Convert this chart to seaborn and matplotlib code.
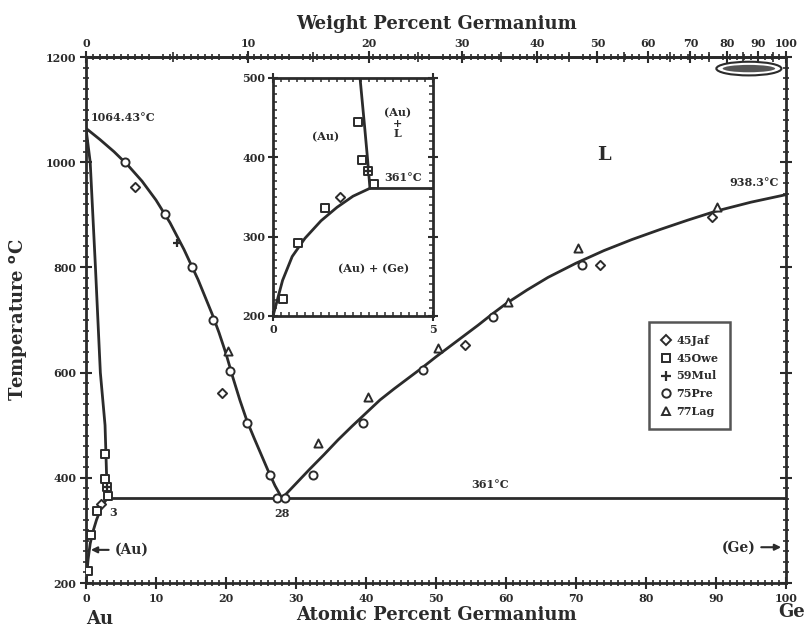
import numpy as np
import pandas as pd
import matplotlib
matplotlib.use("Agg")
import matplotlib.pyplot as plt
from matplotlib.ticker import MultipleLocator, FixedLocator
from matplotlib.patches import Ellipse
from matplotlib.lines import Line2D
import seaborn as sns

# ---------------- data ----------------
# Liquidus, Au side (at.% Ge, deg C)
liq_au_x = [0, 2, 4, 6, 8, 10, 12, 14, 16, 18, 19, 20, 21, 22, 23, 24, 25, 26, 27, 28]
liq_au_t = [1064.43, 1043, 1020, 994, 964, 928, 885, 834, 777, 712, 676, 636, 590, 547, 508, 476, 445, 414, 385, 361]
# Liquidus, Ge side
liq_ge_x = [28, 30, 32, 34, 36, 38, 40, 42, 44, 46, 48, 50, 52, 54, 56, 58, 60, 63, 66, 70, 74, 78, 82, 86, 90, 95, 100]
liq_ge_t = [361, 389, 417, 444, 472, 498, 523, 548, 569, 589, 609, 630, 650, 670, 690, 711, 731, 757, 781, 808, 832, 853, 872, 890, 907, 924, 938.3]
# Solidus of (Au)
sol_x = [0, 0.6, 1.35, 2.05, 2.72, 2.86, 2.95, 3.03]
sol_t = [1064.43, 1000, 800, 600, 500, 440, 400, 361]
# Solvus of (Au)
solv_x = [0, 0.1, 0.3, 0.6, 1.0, 1.5, 2.0, 2.5, 3.03]
solv_t = [200, 215, 245, 275, 298, 320, 337, 351, 361]
# Eutectic isotherm
eut_x = [3.03, 100]
eut_t = [361, 361]

# Experimental points by source
jaf_x = [7.0, 19.4, 54.1, 73.4, 89.4, 2.09]
jaf_t = [953, 561, 652, 805, 896, 350]
owe_x = [0.31, 0.78, 1.63, 2.66, 2.78, 3.16, 2.97]
owe_t = [222, 292, 336, 445, 397, 366, 383]
mul_x = [13.0, 2.97]
mul_t = [846, 383]
pre_x = [5.6, 11.3, 15.1, 18.1, 20.6, 23.0, 26.3, 27.3, 28.4, 32.4, 39.6, 48.1, 58.1, 70.9]
pre_t = [1000, 901, 801, 700, 603, 504, 405, 361, 361, 405, 504, 605, 706, 805]
lag_x = [20.3, 33.1, 40.3, 50.3, 60.3, 70.3, 90.1]
lag_t = [641, 466, 554, 647, 734, 837, 915]

sources = ["45Jaf", "45Owe", "59Mul", "75Pre", "77Lag"]
src_x = [jaf_x, owe_x, mul_x, pre_x, lag_x]
src_t = [jaf_t, owe_t, mul_t, pre_t, lag_t]
src_marker = ["D", "s", "P", "o", "^"]

points = pd.concat(
    [pd.DataFrame({"x": xs, "t": ts, "source": s}) for s, xs, ts in zip(sources, src_x, src_t)],
    ignore_index=True,
)

INK = "#2b2b2b"
M_AU, M_GE = 196.97, 72.63


def at_to_wt(x):
    x = np.asarray(x, dtype=float)
    return x * M_GE / (x * M_GE + (100 - x) * M_AU) * 100


def wt_to_at(w):
    w = np.asarray(w, dtype=float)
    a = w / M_GE
    return a / (a + (100 - w) / M_AU) * 100


# ---------------- style ----------------
sns.set_theme(style="ticks")
plt.rcParams["font.family"] = ["DejaVu Serif"]
plt.rcParams["font.weight"] = "bold"
plt.rcParams["text.color"] = INK
plt.rcParams["axes.edgecolor"] = INK
plt.rcParams["xtick.color"] = INK
plt.rcParams["ytick.color"] = INK
plt.rcParams["axes.labelcolor"] = INK

fig = plt.figure(figsize=(8.08, 6.3), dpi=100)
ax = fig.add_axes([86 / 808, 47 / 630, 700 / 808, 526 / 630])


def draw_diagram(a):
    kw = dict(color=INK, lw=2.0, sort=False, estimator=None, legend=False, ax=a)
    sns.lineplot(x=sol_x, y=sol_t, **kw)
    sns.lineplot(x=solv_x, y=solv_t, **kw)
    sns.lineplot(x=eut_x, y=eut_t, **kw)
    for s, m in zip(sources, src_marker):
        sub = points[points["source"] == s]
        if m == "P":
            sns.scatterplot(data=sub, x="x", y="t", marker="+", s=40, color=INK,
                            linewidth=1.6, ax=a, legend=False, zorder=4)
        else:
            size = 22 if m == "D" else 34
            sns.scatterplot(data=sub, x="x", y="t", marker=m, s=size, facecolor="white",
                            edgecolor=INK, linewidth=1.4, ax=a, legend=False, zorder=4)


# ---------------- main diagram ----------------
lk = dict(color=INK, lw=2.0, sort=False, estimator=None, legend=False, ax=ax)
sns.lineplot(x=liq_au_x, y=liq_au_t, **lk)
sns.lineplot(x=liq_ge_x, y=liq_ge_t, **lk)
draw_diagram(ax)

ax.set_xlim(0, 100)
ax.set_ylim(200, 1200)
ax.xaxis.set_major_locator(MultipleLocator(10))
ax.xaxis.set_minor_locator(MultipleLocator(1))
ax.yaxis.set_major_locator(MultipleLocator(200))
ax.yaxis.set_minor_locator(MultipleLocator(20))
ax.tick_params(axis="both", which="major", direction="inout", length=8, width=1.5,
               labelsize=8, pad=3, right=True)
ax.tick_params(axis="both", which="minor", direction="inout", length=4, width=1.2, right=True)
ax.tick_params(axis="x", which="minor", top=True)
ax.tick_params(axis="x", which="major", top=False)
for sp in ax.spines.values():
    sp.set_linewidth(2.0)
    sp.set_visible(True)
ax.set_xlabel("Atomic Percent Germanium", fontsize=13, fontweight="bold", labelpad=2)
ax.set_ylabel("Temperature $^{\\rm o}$C", fontsize=13, fontweight="bold", labelpad=12)

sec = ax.secondary_xaxis("top", functions=(at_to_wt, wt_to_at))
sec.xaxis.set_major_locator(FixedLocator(list(range(0, 101, 10))))
sec.xaxis.set_minor_locator(FixedLocator(list(range(5, 100, 10))))
sec.tick_params(which="major", direction="inout", length=8, width=1.5, labelsize=8, pad=2)
sec.tick_params(which="minor", direction="inout", length=7, width=1.2)
sec.set_xlabel("Weight Percent Germanium", fontsize=13, fontweight="bold", labelpad=6)
sec.spines["top"].set_linewidth(2.0)

# annotations
ax.text(0.6, 1085, "1064.43°C", fontsize=8, fontweight="bold", ha="left", va="center")
ax.text(99, 962, "938.3°C", fontsize=8, fontweight="bold", ha="right", va="center")
ax.text(74, 1014, "L", fontsize=14, fontweight="bold", ha="center", va="center")
ax.text(57.7, 387, "361°C", fontsize=8, fontweight="bold", ha="center", va="center")
ax.text(28, 333, "28", fontsize=8, fontweight="bold", ha="center", va="center")
ax.text(3.9, 334, "3", fontsize=8, fontweight="bold", ha="center", va="center")
ax.annotate("(Au)", xy=(0.3, 263), xytext=(4.1, 263), fontsize=10, fontweight="bold",
            ha="left", va="center",
            arrowprops=dict(arrowstyle="-|>", color=INK, lw=1.5, mutation_scale=9))
ax.annotate("(Ge)", xy=(99.7, 268), xytext=(95.6, 268), fontsize=10, fontweight="bold",
            ha="right", va="center",
            arrowprops=dict(arrowstyle="-|>", color=INK, lw=1.5, mutation_scale=9))
ax.text(0.02, -0.068, "Au", transform=ax.transAxes, fontsize=13, fontweight="bold",
        ha="center", va="center")
ax.text(1.008, -0.056, "Ge", transform=ax.transAxes, fontsize=13, fontweight="bold",
        ha="center", va="center")

# emblem in the upper right corner
ax.add_patch(Ellipse((0.947, 0.978), 0.093, 0.026, transform=ax.transAxes,
                     facecolor="white", edgecolor=INK, lw=1.5, zorder=5))
ax.add_patch(Ellipse((0.947, 0.978), 0.075, 0.014, transform=ax.transAxes,
                     facecolor="#555555", edgecolor="none", zorder=6))

# legend
handles = []
for s, m in zip(sources, src_marker):
    if m == "P":
        handles.append(Line2D([], [], ls="none", marker="+", ms=7, mew=1.6, color=INK, label=s))
    else:
        handles.append(Line2D([], [], ls="none", marker=m, ms=5 if m == "D" else 6,
                              mfc="white", mec=INK, mew=1.4, label=s))
leg = ax.legend(handles=handles, loc="upper left", bbox_to_anchor=(0.797, 0.506),
                frameon=True, fancybox=False, borderpad=1.1, labelspacing=0.62,
                handlelength=0.8, handletextpad=0.5, prop=dict(size=8, weight="bold"))
leg.get_frame().set_edgecolor(INK)
leg.get_frame().set_linewidth(1.8)

# ---------------- inset: Au-rich corner ----------------
ins = fig.add_axes([273 / 808, (630 - 316) / 630, 160 / 808, 238 / 630])
ins.set_facecolor("white")
draw_diagram(ins)
ins.set_xlim(0, 5)
ins.set_ylim(200, 500)
ins.xaxis.set_major_locator(MultipleLocator(5))
ins.xaxis.set_minor_locator(MultipleLocator(0.25))
ins.yaxis.set_major_locator(MultipleLocator(100))
ins.yaxis.set_minor_locator(MultipleLocator(10))
ins.tick_params(axis="both", which="major", direction="inout", length=7, width=1.5,
                labelsize=8, pad=2, top=True, right=True)
ins.tick_params(axis="both", which="minor", direction="in", length=3, width=1.1,
                top=True, right=True)
for sp in ins.spines.values():
    sp.set_linewidth(2.0)
ins.set_xlabel("")
ins.set_ylabel("")
ins.text(1.63, 426, "(Au)", fontsize=8, fontweight="bold", ha="center", va="center")
ins.text(3.88, 443, "(Au)\n+\nL", fontsize=8, fontweight="bold", ha="center", va="center",
         linespacing=0.95)
ins.text(4.06, 375, "361°C", fontsize=8, fontweight="bold", ha="center", va="center")
ins.text(3.13, 260, "(Au) + (Ge)", fontsize=8, fontweight="bold", ha="center", va="center")

fig.savefig("out.png", dpi=100)
